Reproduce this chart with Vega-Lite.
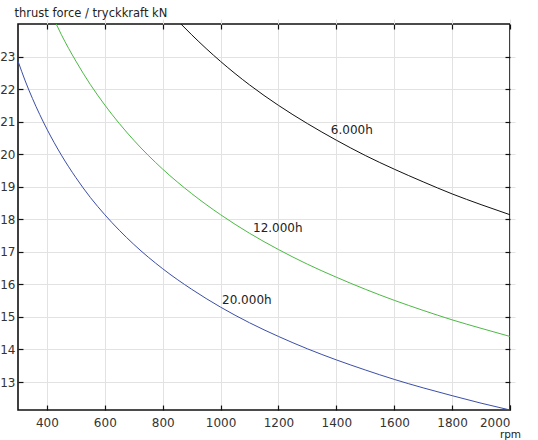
{
  "$schema": "https://vega.github.io/schema/vega-lite/v6.json",
  "width": 492,
  "height": 386,
  "autosize": "none",
  "padding": {"left": 18, "top": 24, "right": 28, "bottom": 30},
  "background": "white",
  "config": {
    "font": "DejaVu Sans",
    "view": {"stroke": "#111", "strokeWidth": 1.6},
    "axis": {"labelFont": "DejaVu Sans", "labelFontSize": 12, "labelColor": "#333", "titleFont": "DejaVu Sans", "titleFontWeight": "normal", "titleFontSize": 11.5, "titleColor": "#222", "domain": false, "offset": -5, "tickSize": 5, "tickColor": "#111", "tickWidth": 1.2, "gridColor": "#e2e2e2", "gridWidth": 1}
  },
  "resolve": {"axis": {"x": "independent", "y": "independent"}},
  "datasets": {
    "curves": [
      {"rpm": 300, "force": 22.86, "life": "20.000h"},
      {"rpm": 325, "force": 22.25, "life": "20.000h"},
      {"rpm": 350, "force": 21.71, "life": "20.000h"},
      {"rpm": 375, "force": 21.22, "life": "20.000h"},
      {"rpm": 400, "force": 20.77, "life": "20.000h"},
      {"rpm": 450, "force": 19.97, "life": "20.000h"},
      {"rpm": 500, "force": 19.28, "life": "20.000h"},
      {"rpm": 550, "force": 18.67, "life": "20.000h"},
      {"rpm": 600, "force": 18.14, "life": "20.000h"},
      {"rpm": 700, "force": 17.23, "life": "20.000h"},
      {"rpm": 800, "force": 16.48, "life": "20.000h"},
      {"rpm": 900, "force": 15.85, "life": "20.000h"},
      {"rpm": 1000, "force": 15.30, "life": "20.000h"},
      {"rpm": 1100, "force": 14.82, "life": "20.000h"},
      {"rpm": 1200, "force": 14.40, "life": "20.000h"},
      {"rpm": 1300, "force": 14.02, "life": "20.000h"},
      {"rpm": 1400, "force": 13.68, "life": "20.000h"},
      {"rpm": 1500, "force": 13.37, "life": "20.000h"},
      {"rpm": 1600, "force": 13.08, "life": "20.000h"},
      {"rpm": 1700, "force": 12.82, "life": "20.000h"},
      {"rpm": 1800, "force": 12.58, "life": "20.000h"},
      {"rpm": 1900, "force": 12.35, "life": "20.000h"},
      {"rpm": 2000, "force": 12.14, "life": "20.000h"},
      {"rpm": 432, "force": 24.0, "life": "12.000h"},
      {"rpm": 450, "force": 23.67, "life": "12.000h"},
      {"rpm": 500, "force": 22.86, "life": "12.000h"},
      {"rpm": 550, "force": 22.14, "life": "12.000h"},
      {"rpm": 600, "force": 21.51, "life": "12.000h"},
      {"rpm": 700, "force": 20.43, "life": "12.000h"},
      {"rpm": 800, "force": 19.54, "life": "12.000h"},
      {"rpm": 900, "force": 18.79, "life": "12.000h"},
      {"rpm": 1000, "force": 18.14, "life": "12.000h"},
      {"rpm": 1100, "force": 17.57, "life": "12.000h"},
      {"rpm": 1200, "force": 17.07, "life": "12.000h"},
      {"rpm": 1300, "force": 16.62, "life": "12.000h"},
      {"rpm": 1400, "force": 16.22, "life": "12.000h"},
      {"rpm": 1500, "force": 15.85, "life": "12.000h"},
      {"rpm": 1600, "force": 15.51, "life": "12.000h"},
      {"rpm": 1700, "force": 15.20, "life": "12.000h"},
      {"rpm": 1800, "force": 14.91, "life": "12.000h"},
      {"rpm": 1900, "force": 14.65, "life": "12.000h"},
      {"rpm": 2000, "force": 14.40, "life": "12.000h"},
      {"rpm": 863, "force": 24.0, "life": "6.000h"},
      {"rpm": 900, "force": 23.67, "life": "6.000h"},
      {"rpm": 1000, "force": 22.85, "life": "6.000h"},
      {"rpm": 1100, "force": 22.13, "life": "6.000h"},
      {"rpm": 1200, "force": 21.50, "life": "6.000h"},
      {"rpm": 1300, "force": 20.94, "life": "6.000h"},
      {"rpm": 1400, "force": 20.43, "life": "6.000h"},
      {"rpm": 1500, "force": 19.96, "life": "6.000h"},
      {"rpm": 1600, "force": 19.54, "life": "6.000h"},
      {"rpm": 1700, "force": 19.15, "life": "6.000h"},
      {"rpm": 1800, "force": 18.78, "life": "6.000h"},
      {"rpm": 1900, "force": 18.45, "life": "6.000h"},
      {"rpm": 2000, "force": 18.14, "life": "6.000h"}
    ],
    "labels": [
      {"rpm": 1381, "force": 20.73, "label": "6.000h"},
      {"rpm": 1112, "force": 17.72, "label": "12.000h"},
      {"rpm": 1005, "force": 15.52, "label": "20.000h"}
    ]
  },
  "layer": [
    {
      "data": {"name": "curves"},
      "mark": {"type": "line", "strokeWidth": 1, "interpolate": "monotone", "clip": true},
      "encoding": {
        "x": {"field": "rpm", "type": "quantitative", "scale": {"domain": [300, 2000], "nice": false, "zero": false},
          "axis": {"orient": "bottom", "values": [400, 600, 800, 1000, 1200, 1400, 1600, 1800, 2000], "format": "d", "labelPadding": 7, "title": "rpm", "titleX": 492, "titleY": 24, "titleAlign": "center", "titleBaseline": "top", "titleFontSize": 10.5}},
        "y": {"field": "force", "type": "quantitative", "scale": {"domain": [12.14, 24], "nice": false, "zero": false},
          "axis": {"orient": "left", "values": [13, 14, 15, 16, 17, 18, 19, 20, 21, 22, 23], "labelPadding": 3, "title": "thrust force / tryckkraft kN", "titleAngle": 0, "titleX": -9, "titleY": -6, "titleAlign": "left", "titleBaseline": "bottom"}},
        "color": {"field": "life", "type": "nominal", "scale": {"domain": ["6.000h", "12.000h", "20.000h"], "range": ["#111111", "#4cb944", "#3a4ea8"]}, "legend": null},
        "detail": {"field": "life"}
      }
    },
    {
      "data": {"name": "labels"},
      "mark": {"type": "point", "opacity": 0},
      "encoding": {
        "x": {"field": "rpm", "type": "quantitative", "axis": {"orient": "top", "values": [400, 600, 800, 1000, 1200, 1400, 1600, 1800, 2000], "labels": false, "grid": false, "title": null}},
        "y": {"field": "force", "type": "quantitative", "axis": {"orient": "right", "values": [13, 14, 15, 16, 17, 18, 19, 20, 21, 22, 23], "labels": false, "grid": false, "title": null}}
      }
    },
    {
      "data": {"name": "labels"},
      "mark": {"type": "text", "align": "left", "baseline": "middle", "fontSize": 12, "color": "#222", "font": "DejaVu Sans"},
      "encoding": {
        "x": {"field": "rpm", "type": "quantitative", "axis": null},
        "y": {"field": "force", "type": "quantitative", "axis": null},
        "text": {"field": "label"}
      }
    }
  ]
}
